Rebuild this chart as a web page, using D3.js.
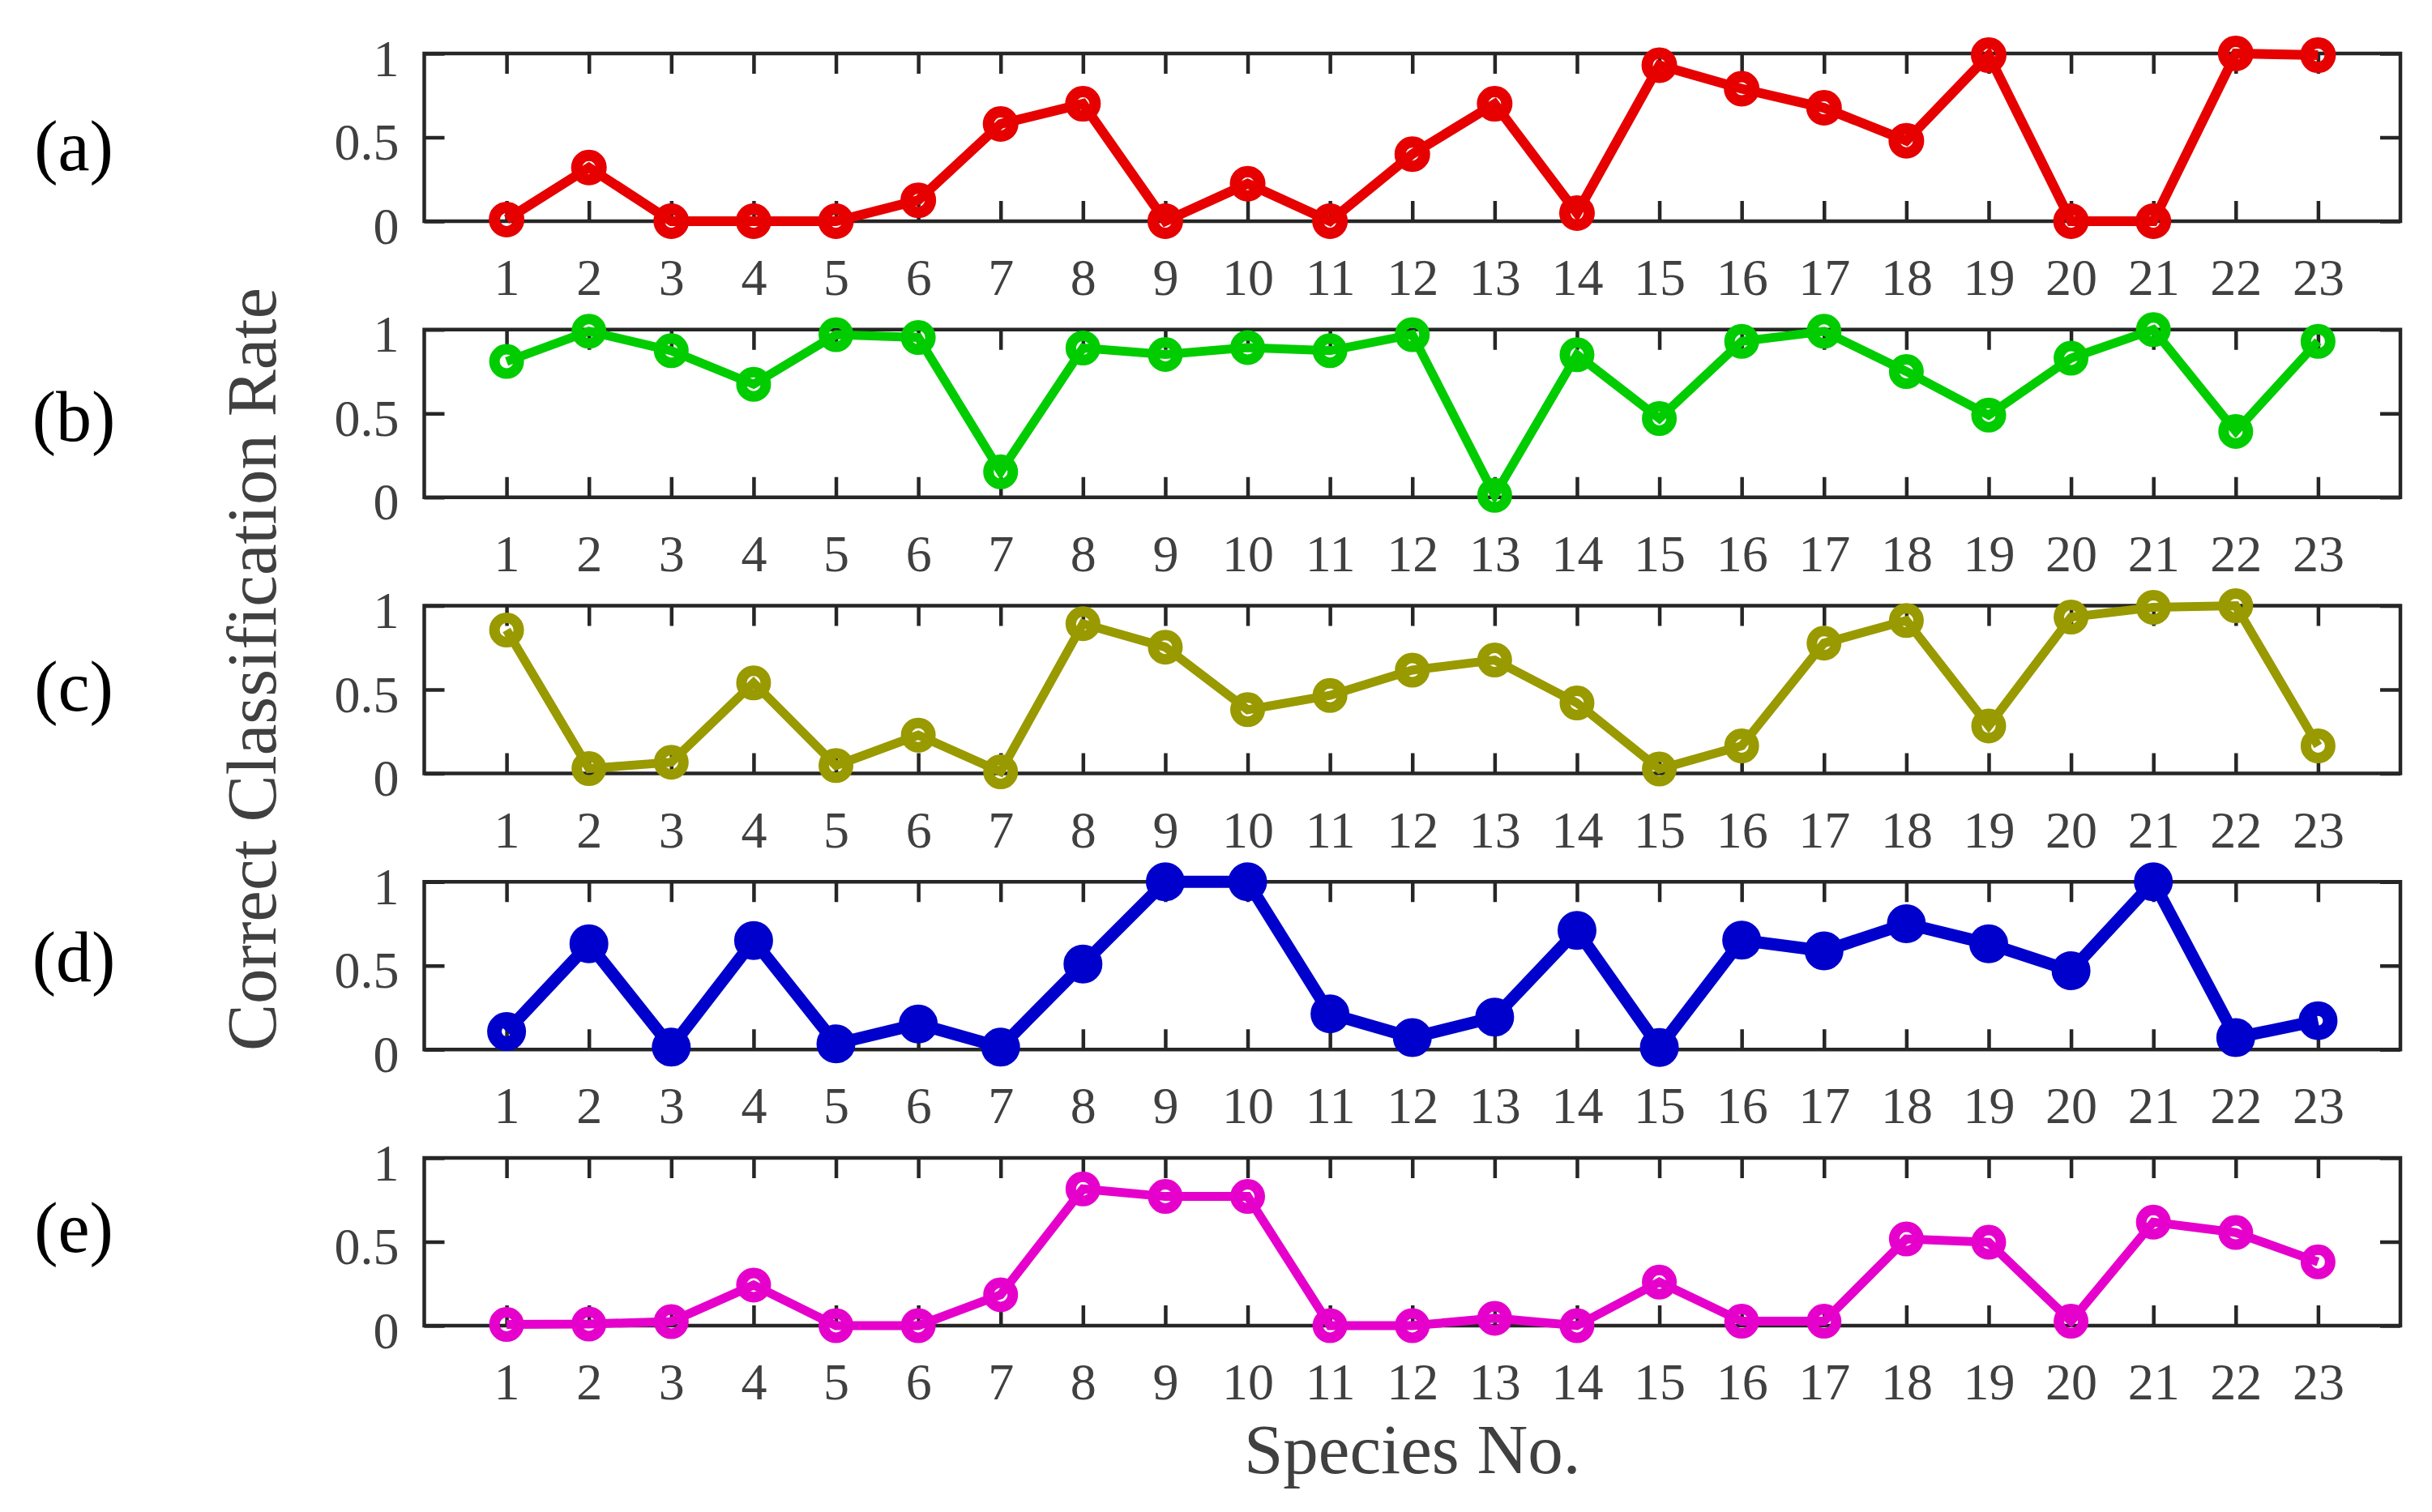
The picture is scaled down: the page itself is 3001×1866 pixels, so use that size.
<!DOCTYPE html>
<html>
<head>
<meta charset="utf-8">
<script src="https://cdn.jsdelivr.net/npm/d3@7"></script>
<style>
  html, body { margin: 0; padding: 0; background: #ffffff; }
  svg { display: block; }
</style>
</head>
<body>
<svg id="chart" width="3001" height="1866"></svg>
<script>
// ---------------- data ----------------
const species = [1,2,3,4,5,6,7,8,9,10,11,12,13,14,15,16,17,18,19,20,21,22,23];
const yTickValues = [0, 0.5, 1];
const yTickLabels = ["0", "0.5", "1"];
const panelLabels = ["(a)", "(b)", "(c)", "(d)", "(e)"];

const seriesA = [0.01,0.32,0.0,0.0,0.0,0.125,0.58,0.70,0.0,0.224,0.0,0.40,0.70,0.048,0.93,0.79,0.676,0.48,0.99,0.0,0.0,1.0,0.99];
const seriesB = [0.81,0.99,0.874,0.674,0.97,0.953,0.152,0.89,0.852,0.893,0.874,0.97,0.012,0.85,0.47,0.93,0.99,0.75,0.49,0.83,1.0,0.393,0.93];
const seriesC = [0.855,0.029,0.067,0.54,0.047,0.228,0.01,0.893,0.753,0.38,0.465,0.616,0.676,0.42,0.026,0.164,0.777,0.912,0.283,0.932,0.99,1.0,0.164];
const seriesD = [0.107,0.63,0.014,0.65,0.034,0.152,0.014,0.51,1.0,1.0,0.213,0.071,0.193,0.71,0.012,0.652,0.588,0.75,0.63,0.47,1.0,0.071,0.172];
const seriesE = [0.007,0.01,0.024,0.242,0.0,0.0,0.184,0.815,0.77,0.77,0.0,0.0,0.044,0.0,0.26,0.026,0.026,0.517,0.497,0.026,0.617,0.555,0.38];

const xTitle = "Species No.";
const yTitle = "Correct Classification Rate";

// ---------------- styles ----------------
const seriesList = [seriesA, seriesB, seriesC, seriesD, seriesE];
const colors = ["#e60000", "#00cc00", "#999900", "#0000cc", "#e600cc"];
const lineWidths = [12, 11, 11, 15, 11];
const markerR = [15, 15, 15, 15, 15];
const markerSW = [14, 13, 13, 18, 13];

const FONT = "'Liberation Serif', 'Times New Roman', serif";
const axisColor = "#262626";
const textColor = "#404040";

const svg = d3.select("#chart");

const left = 523.5, right = 2962;
const firstTop = 66, panelStep = 340.75, panelH = 207;

const x = d3.scaleLinear().domain([0, 24]).range([left, right]);

seriesList.forEach((vals, i) => {
  const top = firstTop + i * panelStep;
  const bottom = top + panelH;
  const y = d3.scaleLinear().domain([0, 1]).range([bottom, top]);
  const g = svg.append("g");

  // bottom axis (ticks inward + labels)
  const gb = g.append("g").attr("transform", `translate(0,${bottom})`)
    .call(d3.axisBottom(x).tickValues(species).tickSizeInner(-25).tickSizeOuter(0).tickFormat(d3.format("d")));
  gb.selectAll("text")
    .attr("y", 91).attr("dy", null)
    .style("font-family", FONT).style("font-size", "64px").attr("fill", textColor);

  // top axis (ticks inward only)
  g.append("g").attr("transform", `translate(0,${top})`)
    .call(d3.axisTop(x).tickValues(species).tickSizeInner(-25).tickSizeOuter(0).tickFormat(""));

  // left axis
  const gl = g.append("g").attr("transform", `translate(${left},0)`)
    .call(d3.axisLeft(y).tickValues(yTickValues).tickSizeInner(-25).tickSizeOuter(0)
      .tickFormat((d, k) => yTickLabels[k]));
  gl.selectAll("text")
    .attr("x", -31).attr("dy", null).attr("y", 27)
    .style("font-family", FONT).style("font-size", "64px").attr("fill", textColor);

  // right axis
  g.append("g").attr("transform", `translate(${right},0)`)
    .call(d3.axisRight(y).tickValues(yTickValues).tickSizeInner(-25).tickSizeOuter(0).tickFormat(""));

  g.selectAll(".domain").remove();
  g.selectAll(".tick line").attr("stroke", axisColor).attr("stroke-width", 4.5);

  // box
  g.append("rect")
    .attr("x", left).attr("y", top)
    .attr("width", right - left).attr("height", bottom - top)
    .attr("fill", "none").attr("stroke", axisColor).attr("stroke-width", 4.5);

  // line
  const line = d3.line().x((d, k) => x(species[k])).y(d => y(d));
  g.append("path").datum(vals)
    .attr("d", line)
    .attr("fill", "none")
    .attr("stroke", colors[i])
    .attr("stroke-width", lineWidths[i])
    .attr("stroke-linejoin", "miter");

  // markers
  g.selectAll("circle.m").data(vals).enter().append("circle")
    .attr("class", "m")
    .attr("cx", (d, k) => x(species[k]))
    .attr("cy", d => y(d))
    .attr("r", markerR[i])
    .attr("fill", "none")
    .attr("stroke", colors[i])
    .attr("stroke-width", markerSW[i]);

  // panel label
  svg.append("text")
    .attr("x", 91)
    .attr("y", 210 + i * 333.7)
    .attr("text-anchor", "middle")
    .style("font-family", FONT).style("font-size", "88px")
    .attr("fill", "#000000")
    .text(panelLabels[i]);
});

// axis titles
svg.append("text")
  .attr("transform", "translate(340,826) rotate(-90)")
  .attr("text-anchor", "middle")
  .style("font-family", FONT).style("font-size", "87px")
  .attr("fill", textColor)
  .text(yTitle);

svg.append("text")
  .attr("x", (left + right) / 2)
  .attr("y", 1818)
  .attr("text-anchor", "middle")
  .style("font-family", FONT).style("font-size", "87px")
  .attr("fill", textColor)
  .text(xTitle);
</script>
</body>
</html>
